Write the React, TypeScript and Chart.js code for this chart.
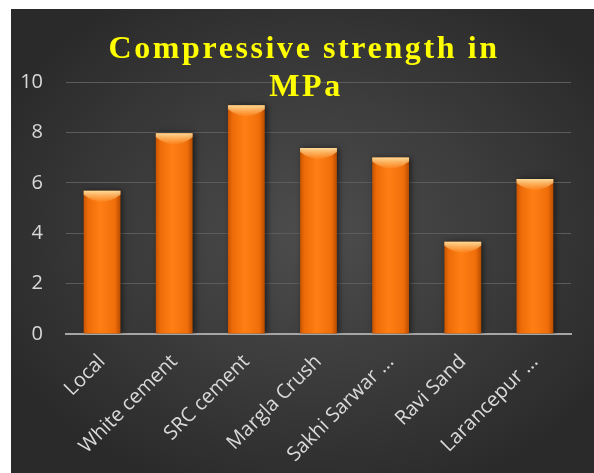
import React, { useEffect, useRef } from "react";
import { Chart, registerables } from "chart.js";

Chart.register(...registerables);

const categories = [
  "Local",
  "White cement",
  "SRC cement",
  "Margla Crush",
  "Sakhi Sarwar ...",
  "Ravi Sand",
  "Larancepur ...",
];
const strengthValues = [5.68, 7.97, 9.08, 7.38, 7.0, 3.66, 6.15];
const yTicks = [0, 2, 4, 6, 8, 10];
const titleLines = ["Compressive strength in", "MPa"];

const titlePlugin = {
  id: "overlayTitle",
  afterDraw(chart: any) {
    const ctx = chart.ctx;
    ctx.save();
    ctx.fillStyle = "#ffff00";
    ctx.font = "bold 32px 'Liberation Serif', 'Times New Roman', serif";
    (ctx as any).letterSpacing = "2.6px";
    ctx.textAlign = "center";
    ctx.textBaseline = "middle";
    ctx.fillText(titleLines[0], 293, 41);
    ctx.fillText(titleLines[1], 295, 79);
    ctx.restore();
  },
};

const barDecor = {
  id: "barDecor",
  beforeDatasetsDraw(chart: any) {
    const ctx = chart.ctx;
    ctx.save();
    ctx.shadowColor = "rgba(0,0,0,0.55)";
    ctx.shadowBlur = 6;
    ctx.shadowOffsetX = 2;
    ctx.shadowOffsetY = 0;
  },
  afterDatasetsDraw(chart: any) {
    const ctx = chart.ctx;
    ctx.restore();
    const meta = chart.getDatasetMeta(0);
    ctx.save();
    meta.data.forEach((el: any) => {
      if (!isFinite(el.x) || !isFinite(el.y) || !isFinite(el.width)) return;
      const x0 = el.x - el.width / 2;
      const g = ctx.createLinearGradient(0, el.y, 0, el.y + 14);
      g.addColorStop(0, "rgba(255,225,160,0.95)");
      g.addColorStop(0.5, "rgba(255,190,110,0.55)");
      g.addColorStop(1, "rgba(255,140,40,0)");
      ctx.fillStyle = g;
      ctx.beginPath();
      ctx.moveTo(x0, el.y);
      ctx.lineTo(x0 + el.width, el.y);
      ctx.lineTo(x0 + el.width, el.y + 4);
      ctx.quadraticCurveTo(el.x, el.y + 18, x0, el.y + 4);
      ctx.closePath();
      ctx.fill();
    });
    ctx.restore();
  },
};

export default function App() {
  const ref = useRef<HTMLCanvasElement | null>(null);
  useEffect(() => {
    if (!ref.current) return;
    const chart = new Chart(ref.current, {
      type: "bar",
      data: {
        labels: categories,
        datasets: [
          {
            data: strengthValues,
            barPercentage: 0.51,
            categoryPercentage: 1,
            borderWidth: 0,
            backgroundColor: (c: any) => {
              const ch = c.chart;
              const xs = ch.scales?.x;
              if (!xs || c.dataIndex === undefined) return "#f07010";
              const cx = xs.getPixelForValue(c.dataIndex);
              const w = (xs.width / categories.length) * 0.51;
              if (!isFinite(cx) || !isFinite(w) || w <= 0) return "#f07010";
              const g = ch.ctx.createLinearGradient(cx - w / 2, 0, cx + w / 2, 0);
              g.addColorStop(0, "#c85400");
              g.addColorStop(0.12, "#ee6c08");
              g.addColorStop(0.45, "#ff7f14");
              g.addColorStop(0.85, "#f06e0a");
              g.addColorStop(1, "#b84c00");
              return g;
            },
          },
        ],
      },
      options: {
        animation: false,
        responsive: false,
        maintainAspectRatio: false,
        layout: { padding: { top: 73, right: 23, left: 0, bottom: 0 } },
        plugins: {
          legend: { display: false },
          title: { display: false },
          tooltip: { enabled: false },
        },
        scales: {
          x: {
            afterFit: (s: any) => {
              s.height = 139;
            },
            grid: { display: false },
            border: { display: true, color: "#a6a6a6", width: 2 },
            ticks: {
              color: "#d9d9d9",
              font: { family: "Open Sans", size: 20 },
              maxRotation: 45,
              minRotation: 45,
              autoSkip: false,
              padding: 8,
            },
          },
          y: {
            min: 0,
            max: 10,
            afterFit: (s: any) => {
              s.width = 55;
            },
            afterBuildTicks: (s: any) => {
              s.ticks = yTicks.map((v) => ({ value: v }));
            },
            grid: { color: "#5c5c5c", lineWidth: 1, drawTicks: false },
            border: { display: false },
            ticks: {
              color: "#d9d9d9",
              font: { family: "Open Sans", size: 20 },
              padding: 23,
            },
          },
        },
      },
      plugins: [barDecor, titlePlugin],
    });
    return () => chart.destroy();
  }, []);
  return (
    <div
      style={{
        position: "absolute",
        left: 11,
        top: 9,
        width: 583,
        height: 464,
        background:
          "radial-gradient(ellipse 60% 60% at 52% 48%, #4d4d4d 0%, #3e3e3e 45%, #2a2a2a 100%)",
      }}
    >
      <canvas ref={ref} width={583} height={464} style={{ display: "block" }} />
    </div>
  );
}
